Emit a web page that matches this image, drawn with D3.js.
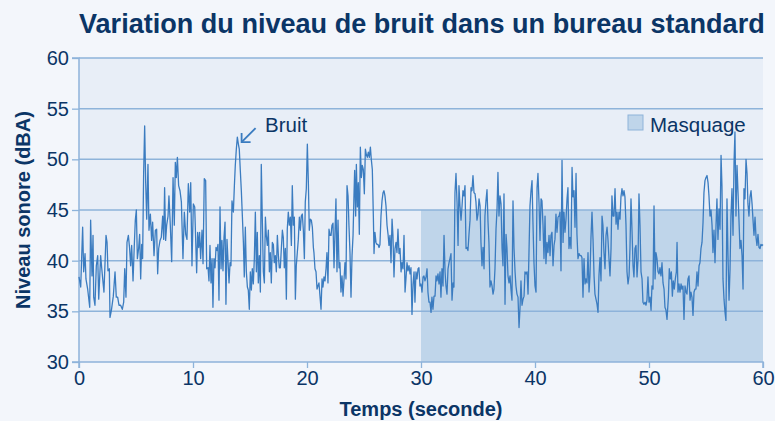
<!DOCTYPE html>
<html>
<head>
<meta charset="utf-8">
<script src="https://cdn.jsdelivr.net/npm/d3@7"></script>
<style>
  html, body { margin: 0; padding: 0; background: #f3f6fb; }
  svg { display: block; }
  text { font-family: "Liberation Sans", Arial, Helvetica, sans-serif; fill: #0b3566; }
</style>
</head>
<body>
<svg id="chart" width="775" height="421"></svg>
<script>
// ---- data ----
const titleText = "Variation du niveau de bruit dans un bureau standard";
const xLabel = "Temps (seconde)";
const yLabel = "Niveau sonore (dBA)";
const xTicks = [0, 10, 20, 30, 40, 50, 60];
const yTicks = [30, 35, 40, 45, 50, 55, 60];
const maskStart = 30, maskEnd = 60, maskLevel = 45;
const maskLabel = "Masquage";
const noiseLabel = "Bruit";
// [time (s), level (dBA)]
const samples = [
[0.00,38.4],[0.15,37.4],[0.32,43.3],[0.41,38.9],[0.53,40.7],[0.61,38.2],[0.76,37.2],[0.94,35.4],[1.02,44.0],[1.14,38.5],
[1.23,42.5],[1.29,36.4],[1.40,35.6],[1.52,39.5],[1.64,40.5],[1.73,36.2],[1.81,38.2],[1.90,40.5],[1.99,39.3],[2.08,38.2],
[2.19,36.9],[2.37,42.5],[2.46,41.8],[2.54,39.0],[2.66,39.2],[2.72,34.4],[2.84,35.1],[3.01,36.5],[3.16,38.9],[3.27,36.4],
[3.39,36.4],[3.51,35.6],[3.65,35.6],[3.80,35.2],[3.92,35.9],[4.01,39.2],[4.12,36.4],[4.21,41.8],[4.33,42.5],[4.44,41.2],
[4.53,39.5],[4.62,41.5],[4.74,38.0],[4.85,41.5],[4.94,44.0],[5.03,45.0],[5.12,40.2],[5.23,41.2],[5.32,42.6],[5.41,38.2],
[5.50,41.6],[5.58,40.2],[5.67,48.6],[5.76,53.3],[5.85,47.7],[5.94,44.1],[6.05,49.5],[6.14,43.0],[6.26,44.6],[6.37,42.0],
[6.46,43.8],[6.58,40.5],[6.70,43.0],[6.81,43.1],[6.90,38.7],[6.99,41.2],[7.11,42.0],[7.22,42.3],[7.34,44.4],[7.43,42.1],
[7.51,47.2],[7.60,42.0],[7.69,43.5],[7.81,44.4],[7.89,46.4],[8.01,43.5],[8.13,39.9],[8.25,48.2],[8.36,43.5],[8.45,49.7],
[8.54,48.2],[8.63,50.2],[8.74,47.4],[8.86,46.9],[8.98,45.8],[9.12,40.2],[9.24,44.8],[9.36,42.6],[9.47,42.1],[9.59,47.6],
[9.71,44.8],[9.80,47.7],[9.91,39.5],[10.03,45.6],[10.15,45.3],
[10.32,38.8],[10.41,42.8],[10.50,41.3],[10.58,42.8],[10.67,40.2],[10.79,43.0],[10.88,39.7],[10.99,48.1],[11.11,47.9],[11.20,39.2],
[11.32,39.3],[11.40,38.0],[11.49,41.5],[11.58,37.8],[11.67,40.2],[11.75,35.4],[11.84,40.2],[11.93,39.3],[12.02,41.3],[12.11,41.0],
[12.19,41.6],[12.28,36.1],[12.37,45.3],[12.46,39.2],[12.54,42.0],[12.63,39.0],[12.72,42.3],[12.81,43.8],[12.89,35.7],[12.98,42.1],
[13.07,40.0],[13.16,37.8],[13.25,39.8],[13.33,39.5],[13.42,45.9],[13.54,44.8],[13.63,47.4],[13.71,49.4],[13.80,51.0],[13.89,52.2],
[13.98,51.5],[14.06,51.0],[14.15,48.9],[14.24,46.9],[14.33,44.4],[14.42,41.8],[14.50,38.4],[14.59,43.3],[14.68,38.9],[14.77,37.4],
[14.85,37.1],[14.94,35.2],[15.03,38.9],[15.12,37.1],[15.20,39.2],[15.29,37.7],[15.38,40.2],[15.47,44.8],[15.56,38.9],[15.64,42.8],
[15.73,37.8],[15.82,40.5],[15.91,36.9],[15.99,49.5],[16.08,44.1],[16.17,38.9],[16.26,37.8],[16.35,44.3],[16.43,42.5],[16.52,41.5],
[16.61,43.0],[16.70,38.9],[16.78,40.8],[16.87,37.8],[16.96,41.8],[17.05,41.6],[17.13,39.8],[17.22,40.5],[17.31,38.9],[17.40,42.5],
[17.49,40.5],[17.57,39.3],[17.66,39.3],[17.75,41.2],[17.84,43.0],[17.92,42.3],[18.01,39.3],[18.10,41.2],[18.19,36.2],[18.27,43.1],
[18.36,44.8],[18.45,43.5],[18.54,44.3],[18.63,41.5],[18.71,47.4],[18.80,43.5],[18.89,44.3],[18.98,36.2],[19.06,39.5],[19.15,40.8],
[19.24,42.1],[19.33,44.3],[19.42,43.0],[19.50,44.4],[19.59,44.6],[19.68,43.0],[19.77,40.2],[19.85,45.8],[19.94,47.1],[20.03,51.5],
[20.12,47.7],[20.20,43.0],[20.29,44.1],[20.38,44.0],[20.47,43.3],[20.56,41.3],
[20.61,40.8],[20.70,39.2],[20.79,38.9],[20.88,37.2],[20.96,37.5],[21.05,37.8],[21.14,36.5],[21.23,35.2],[21.32,38.2],[21.40,37.4],
[21.49,38.4],[21.58,38.0],[21.67,39.2],[21.75,40.8],[21.84,37.8],[21.93,43.1],[22.02,42.5],[22.11,42.5],[22.19,43.5],[22.28,43.7],
[22.37,39.3],[22.46,43.0],[22.54,46.1],[22.63,38.9],[22.72,44.0],[22.81,39.3],[22.89,39.8],[22.98,36.9],[23.07,38.5],[23.16,36.5],
[23.25,38.2],[23.33,39.8],[23.42,38.2],[23.51,47.4],[23.60,46.4],[23.68,43.5],[23.77,40.8],[23.86,36.4],[23.95,40.5],[24.04,42.5],
[24.12,46.4],[24.18,48.9],[24.27,44.4],[24.33,49.5],[24.42,45.3],[24.50,47.7],[24.59,42.6],[24.68,51.2],[24.77,48.2],[24.85,49.4],
[24.94,49.0],[25.03,46.6],[25.12,51.0],[25.20,50.5],[25.29,50.2],[25.38,50.7],[25.47,50.2],[25.56,51.2],[25.64,50.0],[25.73,49.0],
[25.82,44.4],[25.88,40.7],[25.96,42.8],[26.05,41.8],[26.14,41.6],[26.23,41.6],[26.32,41.3],[26.40,41.6],[26.49,44.4],[26.58,45.9],
[26.67,46.7],[26.75,46.9],[26.84,46.4],[26.93,45.4],[27.02,43.5],[27.11,42.6],[27.19,41.5],[27.28,42.5],[27.37,39.8],[27.46,44.1],
[27.54,42.5],[27.63,38.4],[27.72,41.2],[27.81,41.8],[27.89,40.8],[27.98,43.1],[28.07,40.7],[28.16,41.2],[28.25,38.9],[28.33,39.8],
[28.42,39.2],[28.51,42.5],[28.60,36.9],[28.68,38.2],[28.77,39.8],[28.86,39.0],[28.95,39.5],[29.04,38.7],[29.12,39.3],[29.21,34.7],
[29.30,37.7],[29.39,38.9],[29.47,35.9],[29.56,38.9],[29.65,38.2],[29.74,39.2],[29.82,39.3],[29.91,37.5],[30.00,37.7],[30.09,36.9],
[30.18,38.4],[30.26,38.5],[30.35,38.0],[30.44,38.4],[30.53,39.2],[30.61,36.9],[30.70,35.9],[30.79,35.9],[30.88,34.9],
[30.96,36.4],[31.05,35.2],[31.14,36.5],[31.23,36.5],[31.32,38.5],[31.40,38.0],[31.49,38.7],[31.58,37.7],[31.67,38.9],[31.75,36.4],
[31.84,39.2],[31.93,37.5],[32.02,42.5],[32.11,38.9],[32.19,37.5],[32.28,36.7],[32.37,39.2],[32.46,39.8],[32.54,40.2],[32.63,40.7],
[32.72,36.1],[32.81,37.8],[32.89,37.4],[32.98,46.7],[33.07,48.6],[33.16,45.8],[33.25,41.5],[33.33,47.4],[33.42,45.4],[33.51,44.0],
[33.60,45.4],[33.68,46.9],[33.77,46.4],[33.86,47.4],[33.95,41.2],[34.04,41.3],[34.12,41.0],[34.21,42.6],[34.30,44.0],[34.39,47.2],
[34.47,46.9],[34.56,48.4],[34.65,46.7],[34.74,46.6],[34.82,45.8],[34.91,44.0],[35.00,44.6],[35.09,46.1],[35.18,45.4],[35.26,41.8],
[35.35,39.5],[35.44,41.3],[35.53,39.2],[35.61,44.4],[35.70,45.9],[35.79,47.0],[35.88,43.8],[35.96,41.8],[36.05,37.4],[36.14,38.0],
[36.23,37.5],[36.32,36.7],[36.40,37.2],[36.49,39.2],[36.58,43.1],[36.67,45.1],[36.75,48.7],[36.84,44.4],[36.93,46.4],[37.02,45.6],
[37.11,41.2],[37.19,39.5],[37.28,46.6],[37.37,35.7],[37.46,42.6],[37.54,41.3],[37.63,38.5],[37.72,37.8],[37.81,38.5],[37.89,37.2],
[37.98,36.1],[38.07,45.9],[38.16,41.2],[38.25,38.9],[38.33,37.5],[38.42,36.7],[38.51,36.4],[38.60,33.4],[38.68,35.2],[38.77,38.0],
[38.86,35.6],[38.95,36.2],[39.04,36.5],[39.12,38.9],[39.21,38.7],[39.30,38.9],[39.39,36.7],[39.47,40.7],[39.56,45.4],[39.65,46.9],
[39.74,47.9],[39.82,43.8],[39.91,39.8],[40.00,37.5],[40.09,36.9],[40.18,47.2],[40.26,48.6],[40.35,45.8],[40.44,42.0],[40.53,46.1],
[40.61,45.9],[40.70,43.6],[40.79,40.2],[40.88,44.4],[40.96,39.7],[41.05,41.8],[41.14,40.8],[41.23,42.5],
[41.32,40.5],[41.40,42.5],[41.49,42.8],[41.58,39.5],[41.67,41.5],[41.75,42.1],[41.84,44.6],[41.93,42.8],[42.02,44.3],[42.11,44.4],
[42.19,44.8],[42.28,39.0],[42.37,49.9],[42.46,41.8],[42.54,44.8],[42.63,42.8],[42.72,44.1],[42.81,46.1],[42.89,47.2],[42.98,41.2],
[43.07,42.3],[43.16,41.2],[43.25,49.2],[43.33,46.3],[43.42,46.9],[43.51,43.3],[43.60,48.6],[43.68,42.6],[43.77,40.2],[43.86,40.7],
[43.95,40.5],[44.04,40.5],[44.12,40.3],[44.21,36.4],[44.30,40.2],[44.39,37.7],[44.47,38.2],[44.56,37.8],[44.65,40.8],[44.74,36.9],
[44.82,38.5],[44.91,42.3],[45.00,44.8],[45.09,42.1],[45.18,38.5],[45.26,36.7],[45.35,36.2],[45.44,35.7],[45.53,34.9],[45.61,38.5],
[45.70,40.3],[45.79,38.0],[45.88,44.4],[45.96,43.5],[46.05,40.8],[46.14,39.2],[46.23,42.5],[46.32,43.3],[46.40,42.1],[46.49,40.2],
[46.58,38.5],[46.67,41.2],[46.75,46.4],[46.84,44.4],[46.93,44.4],[47.02,47.1],[47.11,43.6],[47.19,44.8],[47.28,43.1],[47.37,44.8],
[47.46,44.1],[47.54,46.3],[47.63,47.1],[47.72,46.4],[47.81,46.9],[47.89,46.3],[47.98,43.6],[48.07,38.9],[48.16,37.7],[48.25,38.5],
[48.33,41.2],[48.42,46.1],[48.51,43.0],[48.60,39.5],[48.68,38.4],[48.77,41.2],[48.86,41.5],[48.95,38.4],[49.04,40.2],[49.12,46.6],
[49.21,43.5],[49.30,38.9],[49.39,38.2],[49.47,35.9],[49.56,35.7],[49.65,35.9],[49.74,35.6],[49.82,36.1],[49.91,38.4],[50.00,35.9],
[50.09,36.4],[50.18,35.1],[50.26,37.5],[50.35,37.2],[50.44,45.4],[50.53,38.2],[50.61,40.8],[50.70,40.2],[50.79,38.9],[50.88,38.7],
[50.96,39.3],[51.05,38.5],[51.14,39.8],[51.23,37.8],[51.32,37.2],[51.40,35.4],[51.49,35.1],[51.58,34.2],
[51.70,36.4],[51.78,39.2],[51.87,38.2],[51.96,38.9],[52.05,36.5],[52.13,38.0],[52.22,37.2],[52.31,38.2],[52.40,38.9],[52.46,41.8],
[52.54,36.9],[52.63,37.7],[52.72,36.9],[52.81,37.7],[52.89,37.2],[52.98,37.5],[53.07,34.2],[53.16,37.5],[53.25,36.9],[53.33,36.7],
[53.42,38.2],[53.51,38.5],[53.60,36.1],[53.68,36.9],[53.77,36.4],[53.86,34.6],[53.95,36.9],[54.04,37.2],[54.12,37.2],[54.21,38.9],
[54.30,37.5],[54.39,39.5],[54.47,39.8],[54.56,41.2],[54.65,41.8],[54.74,43.8],[54.82,46.7],[54.91,47.9],[55.00,48.2],[55.09,48.4],
[55.18,47.7],[55.26,46.4],[55.35,44.4],[55.44,45.0],[55.53,43.5],[55.61,40.8],[55.70,43.0],[55.79,39.8],[55.88,43.5],[55.96,46.1],
[56.05,42.1],[56.14,45.1],[56.23,43.1],[56.32,50.4],[56.40,47.4],[56.49,38.2],[56.58,36.2],[56.67,34.9],[56.75,34.1],[56.84,46.1],
[56.93,40.5],[57.02,36.1],[57.11,39.2],[57.19,44.4],[57.28,47.1],[57.37,42.5],[57.46,49.7],[57.54,52.7],[57.63,44.4],[57.72,49.4],
[57.81,46.7],[57.89,44.1],[57.98,41.2],[58.07,42.0],[58.16,40.5],[58.25,37.2],[58.33,47.1],[58.42,46.1],[58.51,50.0],[58.60,48.6],
[58.68,45.6],[58.77,44.4],[58.86,46.3],[58.95,46.9],[59.04,45.6],[59.12,44.1],[59.21,42.5],[59.30,44.3],[59.39,42.3],[59.47,41.5],
[59.56,42.6],[59.65,41.3],[59.74,41.2],[59.82,41.6],[59.91,41.5],[60.00,41.6]
];
// annotation anchor (points at the peak near 14 s)
const noisePeak = [14.0, 51.8];

// ---- chart ----
const W = 775, H = 421;
const margin = { left: 79, right: 12, top: 58, bottom: 59 };
const svg = d3.select("#chart");
const colors = {
  page: "#f3f6fb", plot: "#e8eef7", mask: "#bfd5ea", grid: "#8eb3da",
  line: "#3b7cc0", text: "#0b3566"
};

const x = d3.scaleLinear().domain([0, 60]).range([margin.left, W - margin.right]);
const y = d3.scaleLinear().domain([30, 60]).range([H - margin.bottom, margin.top]);

svg.append("rect").attr("x", 0).attr("y", 0).attr("width", W).attr("height", H).attr("fill", colors.page);

// plot background
svg.append("rect")
  .attr("x", x(0)).attr("y", y(60))
  .attr("width", x(60) - x(0)).attr("height", y(30) - y(60))
  .attr("fill", colors.plot);

// mask region
svg.append("rect")
  .attr("x", x(maskStart)).attr("y", y(maskLevel))
  .attr("width", x(maskEnd) - x(maskStart)).attr("height", y(30) - y(maskLevel))
  .attr("fill", colors.mask);

// grid lines
svg.append("g").selectAll("line").data(yTicks.filter(d => d > 30)).join("line")
  .attr("x1", x(0)).attr("x2", x(60))
  .attr("y1", d => y(d)).attr("y2", d => y(d))
  .attr("stroke", colors.grid).attr("stroke-width", 1.5);

// axes
const yAxis = d3.axisLeft(y).tickValues(yTicks).tickSize(7).tickPadding(3);
const xAxis = d3.axisBottom(x).tickValues(xTicks).tickSize(6).tickPadding(3);

const gy = svg.append("g").attr("transform", `translate(${x(0)},0)`).call(yAxis);
const gx = svg.append("g").attr("transform", `translate(0,${y(30)})`).call(xAxis);
[gx, gy].forEach(g => {
  g.select(".domain").attr("stroke", colors.grid).attr("stroke-width", 1.5);
  g.selectAll(".tick line").attr("stroke", colors.grid).attr("stroke-width", 1.3);
  g.selectAll(".tick text")
    .attr("fill", colors.text)
    .style("font-family", '"Liberation Sans", Arial, sans-serif')
    .style("font-size", "20px");
});
gy.select(".domain").attr("d", `M-7,${y(60)}H0V${y(30)}H-7`);
gx.select(".domain").attr("d", `M${x(0)},6V0H${x(60)}V6`);

// noise line
const line = d3.line().x(d => x(d[0])).y(d => y(d[1]));
svg.append("path")
  .datum(samples)
  .attr("d", line)
  .attr("fill", "none")
  .attr("stroke", colors.line)
  .attr("stroke-width", 1.3)
  .attr("stroke-linejoin", "round");

// legend
svg.append("rect")
  .attr("x", 628).attr("y", 115).attr("width", 15).attr("height", 15)
  .attr("fill", colors.mask).attr("stroke", colors.grid).attr("stroke-width", 1);
svg.append("text").attr("x", 650).attr("y", 132)
  .style("font-size", "20.5px").text(maskLabel);

// annotation
svg.append("text").attr("x", 265).attr("y", 132)
  .style("font-size", "20.5px").text(noiseLabel);
const ax = x(noisePeak[0]) + 3, ay = y(noisePeak[1]) + 1;
const bx = ax + 14, by = ay - 14;
svg.append("line")
  .attr("x1", bx).attr("y1", by).attr("x2", ax).attr("y2", ay)
  .attr("stroke", colors.line).attr("stroke-width", 1.8);
svg.append("path")
  .attr("d", `M${ax + 9},${ay} L${ax},${ay} L${ax},${ay - 9}`)
  .attr("fill", "none").attr("stroke", colors.line).attr("stroke-width", 1.8);

// title
const title = svg.append("text")
  .attr("x", 79).attr("y", 33)
  .style("font-size", "27px").style("font-weight", "bold")
  .text(titleText);
const tw = title.node().getComputedTextLength();
const targetW = 686;
title.style("font-size", (27 * targetW / tw).toFixed(2) + "px");

// axis titles
svg.append("text")
  .attr("x", (x(0) + x(60)) / 2).attr("y", 416)
  .attr("text-anchor", "middle")
  .style("font-size", "20px").style("font-weight", "bold")
  .text(xLabel);
svg.append("text")
  .attr("transform", `translate(30,${(y(30) + y(60)) / 2}) rotate(-90)`)
  .attr("text-anchor", "middle")
  .style("font-size", "20px").style("font-weight", "bold")
  .text(yLabel);
</script>
</body>
</html>
